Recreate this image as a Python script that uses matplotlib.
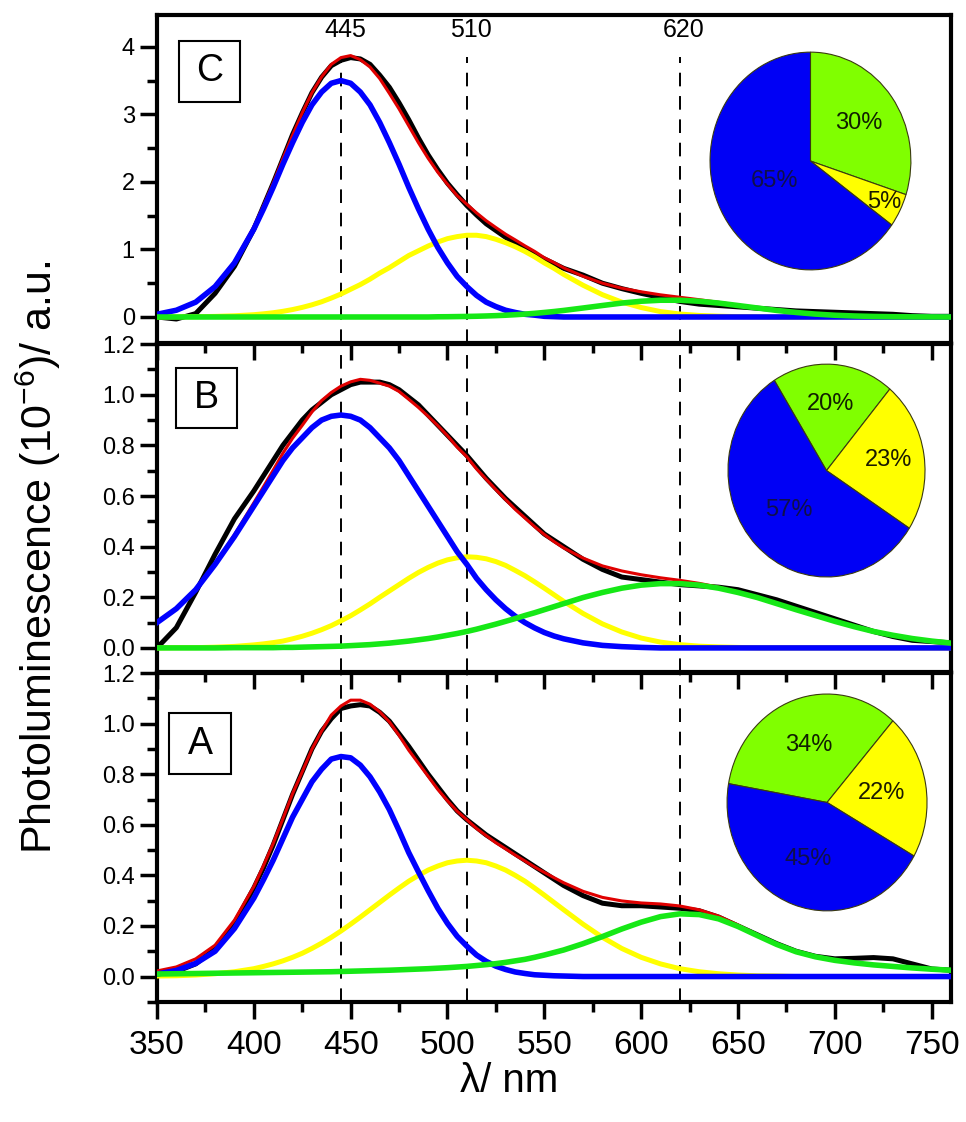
import numpy as np
import matplotlib
matplotlib.use('Agg')
import matplotlib.pyplot as plt
from matplotlib.patches import Rectangle
from matplotlib.ticker import MultipleLocator, FormatStrFormatter

plt.rcParams['font.family'] = ['Liberation Sans', 'DejaVu Sans']

# wavelength (nm) the curves were read at, finer around the peaks
wavelength = [350, 360, 370, 380, 390, 400,
              405, 410, 415, 420, 425, 430, 435, 440, 445, 450, 455, 460, 465, 470, 475, 480,
              485, 490, 495, 500, 505, 510, 515, 520, 525, 530, 535, 540, 545, 550, 555, 560,
              570, 580, 590, 600, 610, 620, 630, 640, 650, 660,
              670, 680, 690, 700, 710, 720, 730, 740, 750, 760]

# panel C
c_black = [0.00, -0.03, 0.05, 0.35, 0.75, 1.30,
           1.64, 1.98, 2.34, 2.70, 3.02, 3.32, 3.55, 3.72, 3.80, 3.84, 3.82, 3.74, 3.58, 3.40, 3.17, 2.92,
           2.65, 2.40, 2.18, 1.98, 1.81, 1.65, 1.51, 1.38, 1.28, 1.18, 1.09, 1.00, 0.93, 0.86, 0.79, 0.72,
           0.62, 0.50, 0.42, 0.35, 0.29, 0.23, 0.19, 0.17, 0.15, 0.13,
           0.11, 0.09, 0.08, 0.07, 0.06, 0.05, 0.04, 0.02, 0.01, 0.01]
c_blue = [0.04, 0.10, 0.22, 0.45, 0.80, 1.30,
          1.60, 1.92, 2.26, 2.58, 2.88, 3.14, 3.33, 3.46, 3.50, 3.46, 3.33, 3.14, 2.88, 2.58, 2.26, 1.92,
          1.60, 1.30, 1.03, 0.80, 0.60, 0.45, 0.32, 0.22, 0.154, 0.10, 0.067, 0.04, 0.027, 0.01, 0.005, 0,
          0, 0, 0, 0, 0, 0, 0, 0, 0, 0,
          0, 0, 0, 0, 0, 0, 0, 0, 0, 0]
c_yellow = [0, 0.002, 0.004, 0.009, 0.018, 0.034,
            0.047, 0.063, 0.084, 0.11, 0.142, 0.18, 0.225, 0.28, 0.34, 0.41, 0.48, 0.56, 0.65, 0.73, 0.82, 0.91,
            0.98, 1.05, 1.11, 1.16, 1.19, 1.21, 1.21, 1.19, 1.15, 1.10, 1.04, 0.97, 0.89, 0.80, 0.72, 0.63,
            0.47, 0.33, 0.22, 0.14, 0.08, 0.044, 0.023, 0.012, 0.005, 0.002,
            0, 0, 0, 0, 0, 0, 0, 0, 0, 0]
c_green = [0, 0, 0, 0, 0, 0,
           0, 0, 0, 0, 0, 0, 0, 0, 0, 0, 0, 0, 0, 0, 0, 0,
           0, 0, 0.003, 0.004, 0.006, 0.008, 0.011, 0.015, 0.02, 0.026, 0.034, 0.043, 0.054, 0.067, 0.081, 0.097,
           0.133, 0.17, 0.206, 0.233, 0.248, 0.248, 0.233, 0.206, 0.17, 0.133,
           0.097, 0.067, 0.043, 0.026, 0.015, 0.008, 0.004, 0.002, 0.001, 0]

# panel B
b_black = [0.00, 0.08, 0.22, 0.37, 0.51, 0.62,
           0.68, 0.74, 0.80, 0.85, 0.90, 0.94, 0.97, 1.00, 1.02, 1.04, 1.05, 1.05, 1.05, 1.04, 1.02, 0.99,
           0.96, 0.92, 0.88, 0.84, 0.80, 0.76, 0.715, 0.67, 0.63, 0.59, 0.555, 0.52, 0.485, 0.45, 0.425, 0.40,
           0.35, 0.31, 0.28, 0.27, 0.26, 0.25, 0.245, 0.24, 0.23, 0.21,
           0.19, 0.165, 0.14, 0.115, 0.09, 0.065, 0.045, 0.03, 0.025, 0.02]
b_blue = [0.10, 0.155, 0.23, 0.33, 0.44, 0.56,
          0.62, 0.68, 0.74, 0.79, 0.83, 0.87, 0.90, 0.915, 0.92, 0.915, 0.90, 0.87, 0.83, 0.79, 0.74, 0.68,
          0.62, 0.56, 0.50, 0.44, 0.38, 0.33, 0.275, 0.23, 0.19, 0.155, 0.125, 0.10, 0.079, 0.061, 0.047, 0.036,
          0.020, 0.010, 0.005, 0.002, 0, 0, 0, 0, 0, 0,
          0, 0, 0, 0, 0, 0, 0, 0, 0, 0]
b_yellow = [0, 0.001, 0.001, 0.003, 0.006, 0.012,
            0.016, 0.021, 0.027, 0.036, 0.046, 0.058, 0.072, 0.088, 0.107, 0.127, 0.15, 0.174, 0.20, 0.225, 0.25, 0.275,
            0.298, 0.318, 0.335, 0.348, 0.356, 0.36, 0.358, 0.352, 0.341, 0.326, 0.306, 0.285, 0.261, 0.236, 0.21, 0.184,
            0.136, 0.095, 0.063, 0.039, 0.023, 0.013, 0.007, 0.004, 0.002, 0,
            0, 0, 0, 0, 0, 0, 0, 0, 0, 0]
b_green = [0, 0, 0, 0, 0.001, 0.001,
           0.001, 0.001, 0.002, 0.002, 0.003, 0.004, 0.005, 0.006, 0.007, 0.009, 0.011, 0.013, 0.016, 0.019, 0.023, 0.027,
           0.032, 0.037, 0.043, 0.050, 0.057, 0.065, 0.074, 0.084, 0.094, 0.105, 0.116, 0.128, 0.139, 0.151, 0.163, 0.175,
           0.199, 0.219, 0.236, 0.248, 0.254, 0.254, 0.248, 0.236, 0.219, 0.199,
           0.175, 0.151, 0.128, 0.105, 0.084, 0.065, 0.050, 0.037, 0.027, 0.019]

# panel A
a_black = [0.01, 0.02, 0.05, 0.11, 0.21, 0.35,
           0.43, 0.52, 0.62, 0.72, 0.81, 0.90, 0.97, 1.02, 1.06, 1.07, 1.075, 1.07, 1.045, 1.01, 0.96, 0.91,
           0.855, 0.80, 0.75, 0.70, 0.655, 0.62, 0.59, 0.56, 0.535, 0.51, 0.485, 0.46, 0.435, 0.41, 0.385, 0.36,
           0.32, 0.29, 0.28, 0.28, 0.275, 0.27, 0.26, 0.235, 0.20, 0.165,
           0.13, 0.10, 0.08, 0.07, 0.072, 0.075, 0.07, 0.05, 0.03, 0.025]
a_blue = [0.01, 0.024, 0.052, 0.10, 0.19, 0.31,
          0.383, 0.46, 0.545, 0.63, 0.70, 0.77, 0.82, 0.86, 0.87, 0.865, 0.836, 0.79, 0.73, 0.66, 0.577, 0.49,
          0.414, 0.34, 0.27, 0.21, 0.159, 0.12, 0.085, 0.06, 0.041, 0.028, 0.018, 0.012, 0.007, 0.005, 0.003, 0.002,
          0, 0, 0, 0, 0, 0, 0, 0, 0, 0,
          0, 0, 0, 0, 0, 0, 0, 0, 0, 0]
a_yellow = [0.002, 0.003, 0.006, 0.011, 0.019, 0.031,
            0.040, 0.050, 0.062, 0.076, 0.092, 0.111, 0.132, 0.155, 0.18, 0.207, 0.235, 0.264, 0.293, 0.322, 0.35, 0.377,
            0.40, 0.421, 0.437, 0.45, 0.457, 0.46, 0.457, 0.45, 0.437, 0.421, 0.40, 0.377, 0.35, 0.322, 0.293, 0.264,
            0.207, 0.155, 0.111, 0.076, 0.050, 0.031, 0.019, 0.011, 0.006, 0.003,
            0.002, 0, 0, 0, 0, 0, 0, 0, 0, 0]
a_green = [0.010, 0.011, 0.012, 0.013, 0.014, 0.015,
           0.0155, 0.016, 0.0165, 0.017, 0.0175, 0.018, 0.0185, 0.019, 0.020, 0.021, 0.022, 0.023, 0.024, 0.025, 0.0265, 0.028,
           0.0295, 0.031, 0.033, 0.035, 0.0375, 0.040, 0.0435, 0.047, 0.051, 0.056, 0.062, 0.068, 0.076, 0.085, 0.095, 0.105,
           0.130, 0.158, 0.188, 0.215, 0.237, 0.248, 0.245, 0.228, 0.198, 0.162,
           0.127, 0.098, 0.078, 0.064, 0.054, 0.046, 0.040, 0.034, 0.029, 0.025]

peak_lines = [445, 510, 620]

# pie shares, in order green, yellow, blue (clockwise)
pie_c = [30, 5, 65]
pie_b = [20, 23, 57]
pie_a = [34, 22, 45]

BLUE = '#0000ff'
YELLOW = '#ffff00'
GREEN = '#16e816'
PIE_COLORS = ['#80ff00', '#ffff00', '#0000f5']


def draw_curves(ax, black, blue, yellow, green):
    fit = np.array(blue) + np.array(yellow) + np.array(green)
    ax.plot(wavelength, black, color='black', lw=3.6, zorder=2, solid_joinstyle='round')
    ax.plot(wavelength, fit, color='#e00000', lw=2.2, zorder=3, solid_joinstyle='round')
    ax.plot(wavelength, yellow, color=YELLOW, lw=3.6, zorder=4, solid_joinstyle='round')
    ax.plot(wavelength, blue, color=BLUE, lw=4.0, zorder=5, solid_joinstyle='round')
    ax.plot(wavelength, green, color=GREEN, lw=4.0, zorder=6, solid_joinstyle='round')


def format_axes(ax, ylim, major, minor, fmt, bottom_labels):
    ax.set_xlim(350, 760)
    ax.set_ylim(*ylim)
    ax.xaxis.set_major_locator(MultipleLocator(50))
    ax.xaxis.set_minor_locator(MultipleLocator(25))
    ax.yaxis.set_major_locator(MultipleLocator(major))
    ax.yaxis.set_minor_locator(MultipleLocator(minor))
    ax.yaxis.set_major_formatter(FormatStrFormatter(fmt))
    ax.tick_params(which='both', direction='out', width=2.5, top=False, right=False)
    ax.tick_params(which='major', length=12)
    ax.tick_params(which='minor', length=7)
    ax.tick_params(axis='y', labelsize=17, pad=4)
    ax.tick_params(axis='x', labelsize=24, pad=8, labelbottom=bottom_labels)
    for spine in ax.spines.values():
        spine.set_linewidth(3)
    ax.patch.set_alpha(0)


def add_letter(ax, letter, box):
    x0, y0, w, h = box
    ax.add_patch(Rectangle((x0, y0), w, h, transform=ax.transAxes, fill=False,
                           edgecolor='black', lw=1.5, zorder=7))
    ax.text(x0 + w / 2, y0 + h / 2, letter, transform=ax.transAxes,
            ha='center', va='center', fontsize=27, zorder=8)


def add_peak_lines(ax, top=1.0):
    for x in peak_lines:
        ax.axvline(x, ymax=top, color='black', lw=1.4, dashes=(7, 5), zorder=1)


def draw_pie(rect, shares, start, dists):
    pax = fig.add_axes(rect)
    wedges, _ = pax.pie(shares, colors=PIE_COLORS, startangle=start, counterclock=False,
                        wedgeprops=dict(edgecolor='#3a3a10', linewidth=0.8))
    pax.set_aspect('auto')
    pax.set_xlim(-1.01, 1.01)
    pax.set_ylim(-1.01, 1.01)
    text_colors = ['#102000', '#1a1a00', '#10104a']
    for w, s, d, tc in zip(wedges, shares, dists, text_colors):
        ang = np.deg2rad((w.theta1 + w.theta2) / 2)
        pax.text(d * np.cos(ang), d * np.sin(ang), f'{s}%', ha='center', va='center',
                 fontsize=17, color=tc)


fig = plt.figure(figsize=(9.66, 11.22), dpi=100)
ax_c = fig.add_axes([0.1625, 0.6943, 0.822, 0.2923])
ax_b = fig.add_axes([0.1625, 0.4011, 0.822, 0.2923])
ax_a = fig.add_axes([0.1625, 0.1070, 0.822, 0.2932])

draw_curves(ax_c, c_black, c_blue, c_yellow, c_green)
draw_curves(ax_b, b_black, b_blue, b_yellow, b_green)
draw_curves(ax_a, a_black, a_blue, a_yellow, a_green)

format_axes(ax_c, (-0.385, 4.47), 1, 0.5, '%d', False)
format_axes(ax_b, (-0.095, 1.2005), 0.2, 0.1, '%.1f', False)
format_axes(ax_a, (-0.1005, 1.2005), 0.2, 0.1, '%.1f', True)

add_peak_lines(ax_c, top=0.872)
add_peak_lines(ax_b)
add_peak_lines(ax_a)
for x in peak_lines:
    ax_c.text(x + 2, 4.25, str(x), ha='center', va='center', fontsize=18)

add_letter(ax_c, 'C', (0.0277, 0.735, 0.0768, 0.186))
add_letter(ax_b, 'B', (0.0239, 0.744, 0.0768, 0.183))
add_letter(ax_a, 'A', (0.0151, 0.693, 0.078, 0.185))

draw_pie([0.734, 0.7585, 0.210, 0.196], pie_c, 90, [0.6, 0.82, 0.4])
draw_pie([0.7526, 0.4848, 0.206, 0.1916], pie_b, 122, [0.63, 0.64, 0.53])
draw_pie([0.7516, 0.1872, 0.2091, 0.1952], pie_a, 170, [0.56, 0.55, 0.55])

fig.text(38 / 966, 0.503, 'Photoluminescence (10$^{\\mathregular{-6}}$)/ a.u.',
         rotation=90, ha='center', va='center', fontsize=31)
fig.text(509 / 966, 1 - 1081 / 1122, 'λ/ nm', ha='center', va='center', fontsize=29)

fig.savefig('out.png', dpi=100, facecolor='white')
